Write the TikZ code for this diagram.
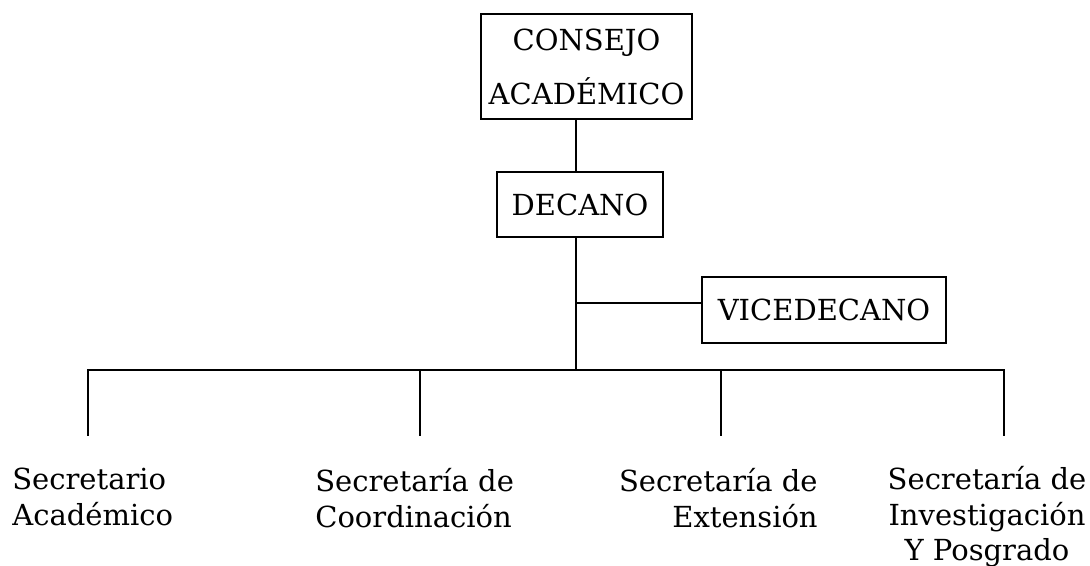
\documentclass[tikz,border=0pt]{standalone}
\usepackage{fontspec}
\setmainfont{DejaVu Serif}
\usepackage{tikz}

\begin{document}
\begin{tikzpicture}[
    caja/.style={draw,line width=1pt,align=center,inner sep=0pt,font=\fontsize{16.5}{30.7}\selectfont},
    rama/.style={line width=1pt},
    etiqueta/.style={inner sep=0pt,font=\fontsize{16.5}{20.3}\selectfont}]
    \useasboundingbox (0,0) rectangle (21.8,11.32);

    % Cajas
    \node[caja,minimum width=4.22cm,minimum height=2.1cm] (consejo) at (11.73,9.99) {CONSEJO\\ACADÉMICO};
    \node[caja,minimum width=3.32cm,minimum height=1.3cm] (decano) at (11.6,7.23) {DECANO};
    \node[caja,minimum width=4.88cm,minimum height=1.32cm] (vice) at (16.48,5.12) {VICEDECANO};

    % Puntos de la red
    \coordinate (tronco) at (11.52,3.92);
    \coordinate (cruce) at (11.52,5.26);
    \coordinate (b1) at (1.76,2.6);
    \coordinate (b2) at (8.4,2.6);
    \coordinate (b3) at (14.42,2.6);
    \coordinate (b4) at (20.08,2.6);

    % Secretarias
    \node[etiqueta,align=left,anchor=north west] (sec1) at (0.24,1.96) {Secretario\\Académico};
    \node[etiqueta,align=left,anchor=north west] (sec2) at (6.3,1.96) {Secretaría de\\Coordinación};
    \node[etiqueta,align=right,anchor=north east] (sec3) at (16.36,1.96) {Secretaría de\\Extensión};
    \node[etiqueta,align=center,anchor=north] (sec4) at (19.74,2.0) {Secretaría de\\Investigación\\Y Posgrado};

    % Lineas
    \draw[rama] (consejo.south -| tronco) -- (decano.north -| tronco);
    \draw[rama] (decano.south -| tronco) -- (tronco);
    \draw[rama] (cruce) -- (cruce -| vice.west);
    \draw[rama] (b1) -- (b1 |- tronco) -- (b4 |- tronco) -- (b4);
    \draw[rama] (b2 |- tronco) -- (b2);
    \draw[rama] (b3 |- tronco) -- (b3);
\end{tikzpicture}
\end{document}
